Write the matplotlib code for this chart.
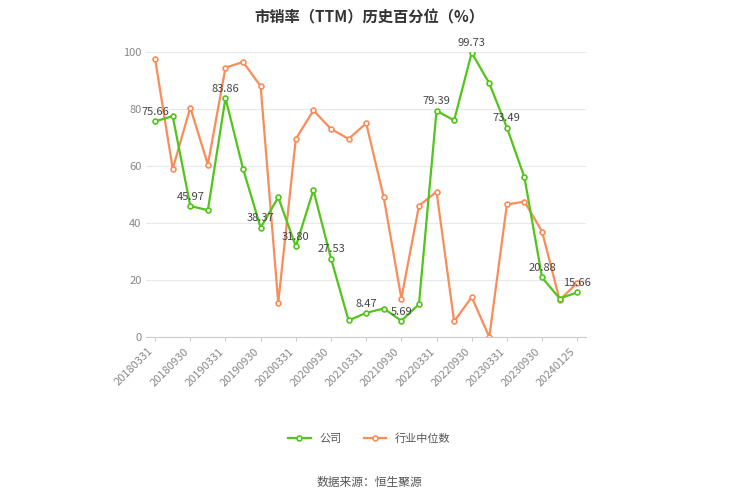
import matplotlib
matplotlib.use("Agg")
import matplotlib.pyplot as plt

plt.rcParams['font.family'] = ['Noto Sans CJK SC']

dates = ["20180331","20180630","20180930","20181231","20190331","20190630","20190930","20191231",
         "20200331","20200630","20200930","20201231","20210331","20210630","20210930","20211231",
         "20220331","20220630","20220930","20221231","20230331","20230630","20230930","20231231","20240125"]
company = [75.66,77.5,45.97,44.5,83.86,59,38.37,49,31.80,51.5,27.53,5.8,8.47,10,5.69,11.5,
           79.39,76,99.73,89,73.49,56,20.88,13.5,15.66]
industry = [97.5,59,80.5,60.5,94.5,96.5,88,12,69.5,79.5,73,69.5,75,49,13.5,46,51,5.5,14,0,
            46.5,47.5,37,13,19]

fig = plt.figure(figsize=(7.39,5.0), dpi=100)
ax = fig.add_axes([0.198, 0.326, 0.595, 0.57])
x = list(range(len(dates)))
green = '#52c41a'; orange = '#fa8c5a'
ax.plot(x, company, color=green, lw=1.6, marker='o', ms=3.5, mfc='white', mew=1.2, label='公司', zorder=3)
ax.plot(x, industry, color=orange, lw=1.6, marker='o', ms=3.5, mfc='white', mew=1.2, label='行业中位数', zorder=2)
for i in range(0, len(x), 2):
    ax.text(x[i], company[i]+1.5, f"{company[i]:.2f}", ha='center', va='bottom', fontsize=8, color='#444444', zorder=4)
ax.set_xlim(-0.5, 24.5)
ax.set_ylim(0, 100)
ax.set_yticks([0,20,40,60,80,100])
ax.set_xticks(x[::2])
ax.set_xticklabels(dates[::2], rotation=45, ha='right', fontsize=8, color='#888888')
ax.tick_params(axis='y', labelsize=8, colors='#888888', length=0)
ax.tick_params(axis='x', length=3, color='#cccccc')
ax.grid(axis='y', color='#e8e8e8', lw=0.8)
for s in ['top','right','left']:
    ax.spines[s].set_visible(False)
ax.spines['bottom'].set_color('#cccccc')
fig.text(0.5, 0.965, '市销率（TTM）历史百分位（%）', ha='center', va='center', fontsize=11, fontweight='bold', color='#333333')
fig.legend(loc='center', bbox_to_anchor=(0.5, 0.122), ncol=2, frameon=False, fontsize=8, labelcolor='#555555')
fig.text(0.5, 0.035, '数据来源：恒生聚源', ha='center', va='center', fontsize=8.5, color='#555555')
fig.savefig('out.png', dpi=100)
